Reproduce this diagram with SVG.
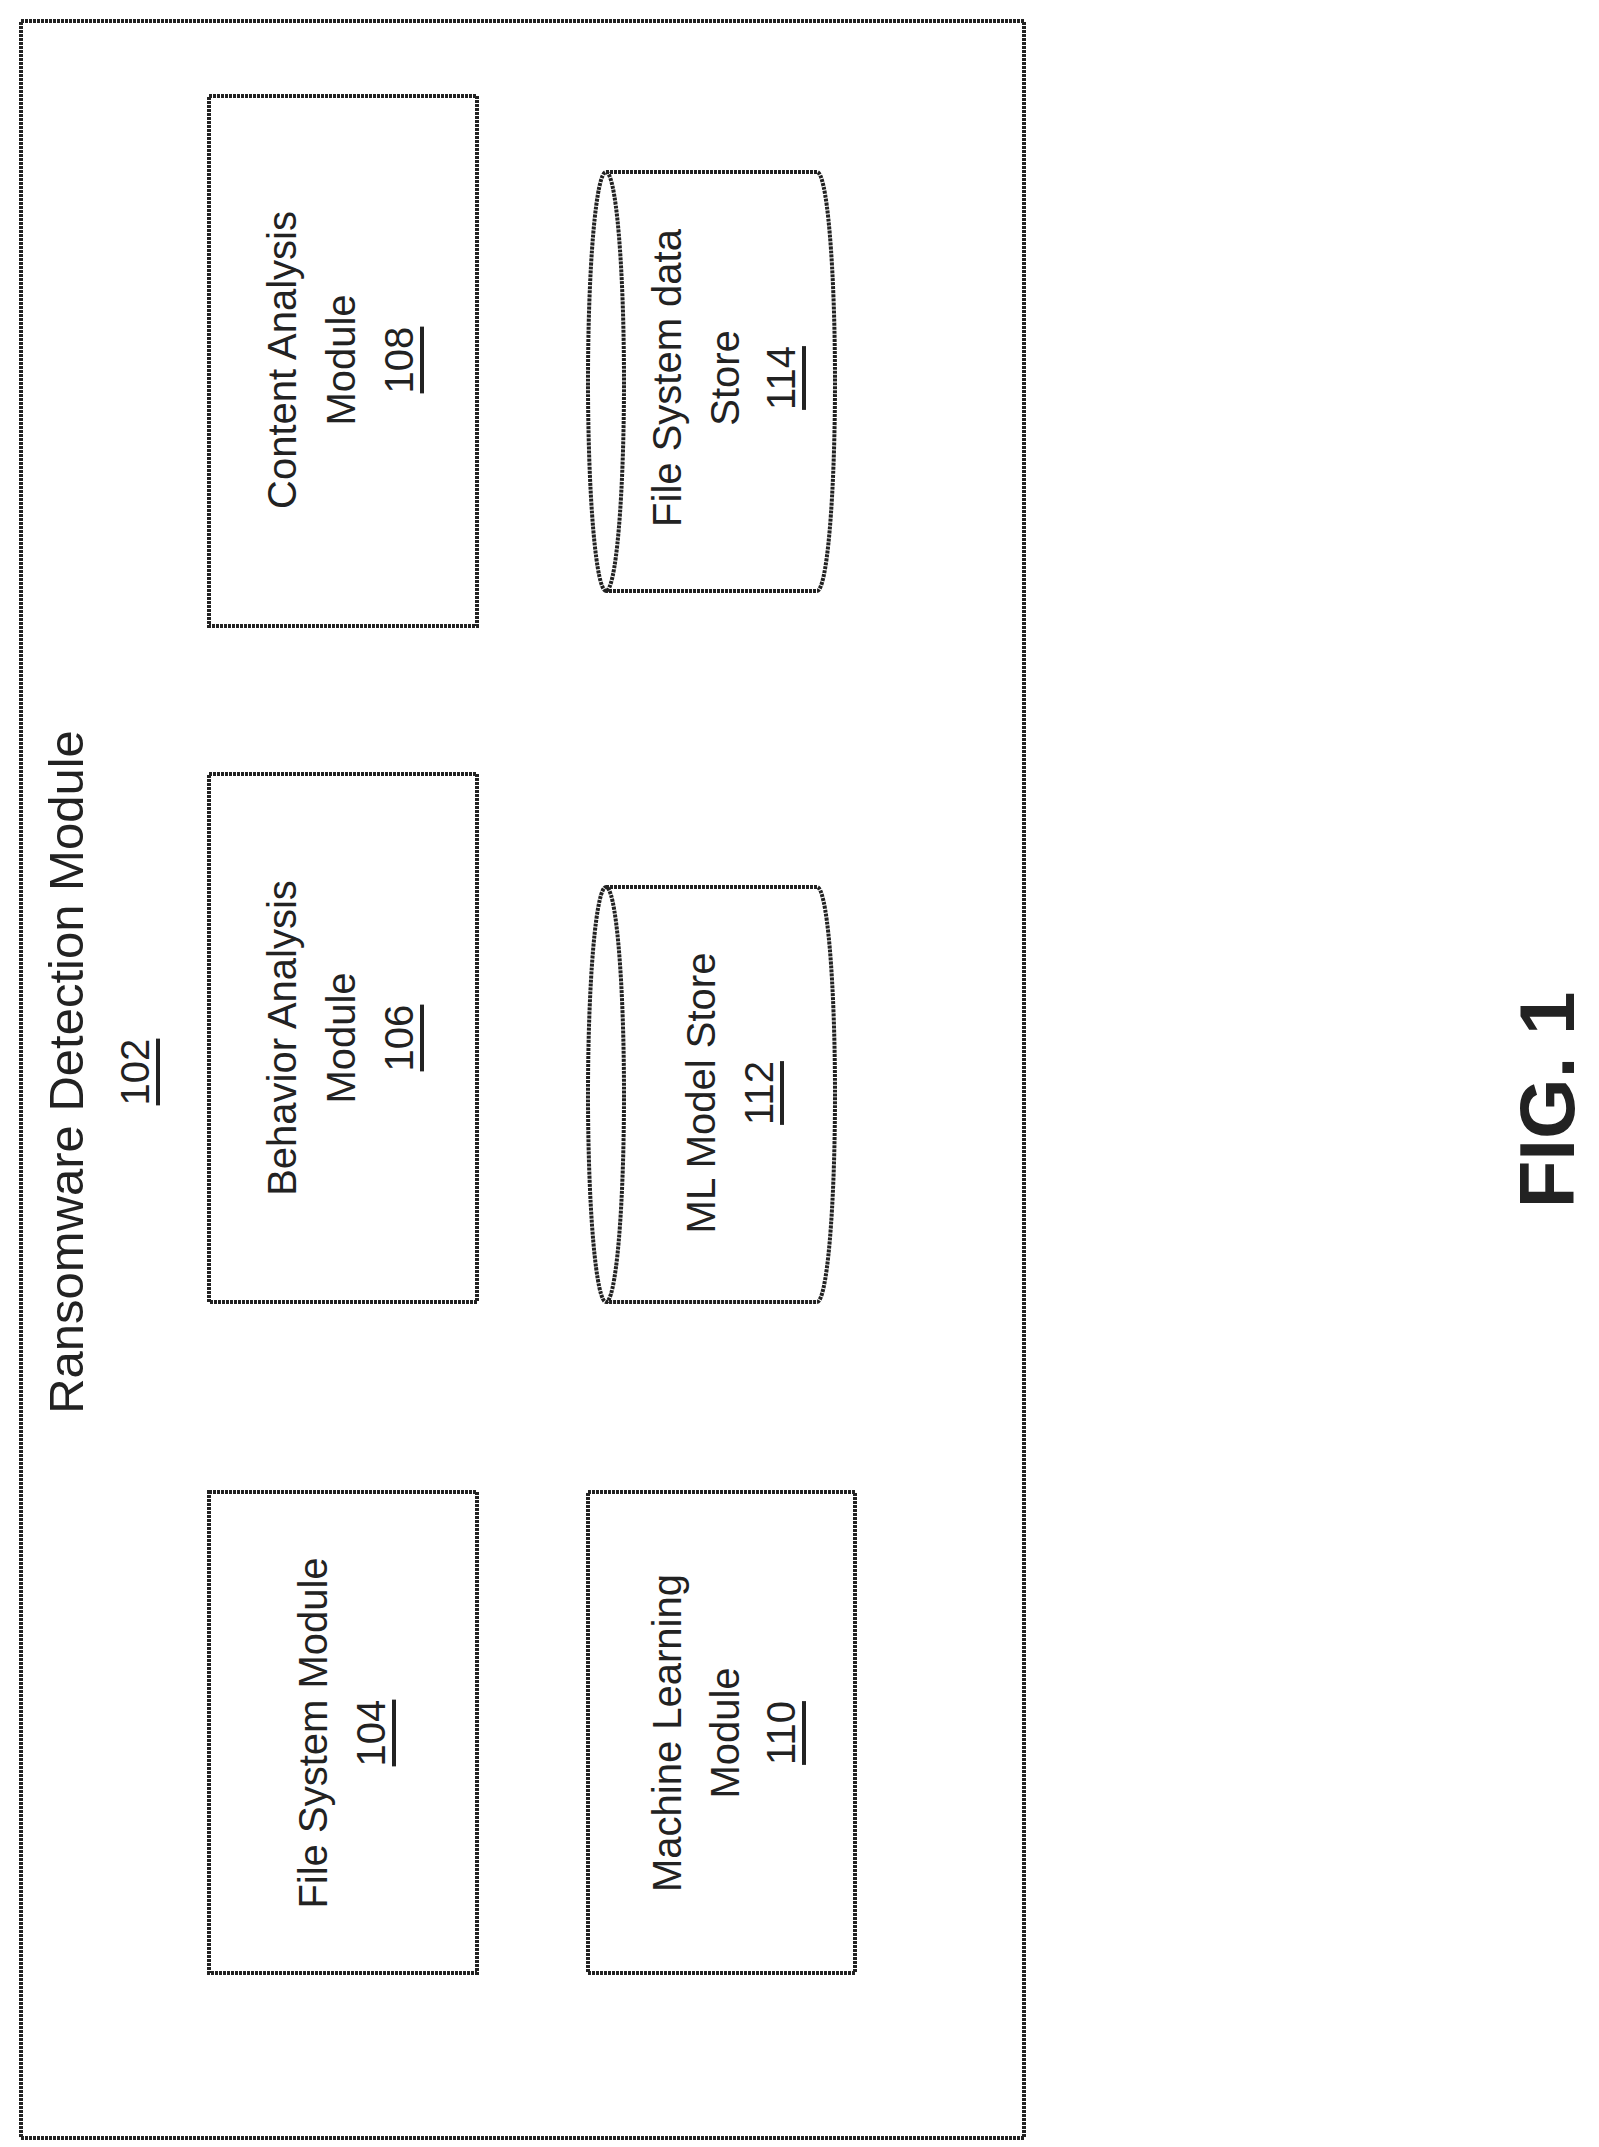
<svg xmlns="http://www.w3.org/2000/svg" width="1599" height="2147" viewBox="0 0 1599 2147">
<style>
text{font-family:"Liberation Sans",Arial,sans-serif;font-size:40px;fill:#222;text-anchor:middle;dominant-baseline:central}
.t{font-size:49px}
.u{text-decoration:underline}
.b{fill:none;stroke:#222;stroke-width:4;stroke-dasharray:3 1}
.f{font-size:78px;font-weight:bold}
</style>
<rect width="1599" height="2147" fill="#fff"/>
<g id="n102">
<rect class="b" x="21" y="21" width="1003" height="2117"/>
<text class="t" transform="translate(66,1072) rotate(-90)">Ransomware Detection Module</text>
<text class="u" transform="translate(135,1072) rotate(-90)">102</text>
</g>
<g id="n104">
<rect class="b" x="209" y="1492" width="268" height="481"/>
<text transform="translate(313,1733) rotate(-90)">File System Module</text>
<text class="u" transform="translate(371,1733) rotate(-90)">104</text>
</g>
<g id="n110">
<rect class="b" x="588" y="1492" width="267" height="481"/>
<text transform="translate(667,1733) rotate(-90)">Machine Learning</text>
<text transform="translate(725,1733) rotate(-90)">Module</text>
<text class="u" transform="translate(781,1733) rotate(-90)">110</text>
</g>
<g id="n106">
<rect class="b" x="209" y="774" width="268" height="528"/>
<text transform="translate(282,1038) rotate(-90)">Behavior Analysis</text>
<text transform="translate(341,1038) rotate(-90)">Module</text>
<text class="u" transform="translate(399,1038) rotate(-90)">106</text>
</g>
<g id="n108">
<rect class="b" x="209" y="96" width="268" height="530"/>
<text transform="translate(282,360) rotate(-90)">Content Analysis</text>
<text transform="translate(341,360) rotate(-90)">Module</text>
<text class="u" transform="translate(399,360) rotate(-90)">108</text>
</g>
<g id="n112">
<path class="b" d="M606,887 H817 A18,207.5 0 0 1 817,1302 H606"/>
<ellipse class="b" cx="606" cy="1094.5" rx="18" ry="207.5"/>
<text transform="translate(701,1093) rotate(-90)">ML Model Store</text>
<text class="u" transform="translate(759,1093) rotate(-90)">112</text>
</g>
<g id="n114">
<path class="b" d="M606,172 H817 A18,209.5 0 0 1 817,591 H606"/>
<ellipse class="b" cx="606" cy="381.5" rx="18" ry="209.5"/>
<text transform="translate(667,378) rotate(-90)">File System data</text>
<text transform="translate(725,378) rotate(-90)">Store</text>
<text class="u" transform="translate(781,378) rotate(-90)">114</text>
</g>
<g id="connectors"/>
<text class="f" transform="translate(1547,1100) rotate(-90)">FIG. 1</text>
</svg>
